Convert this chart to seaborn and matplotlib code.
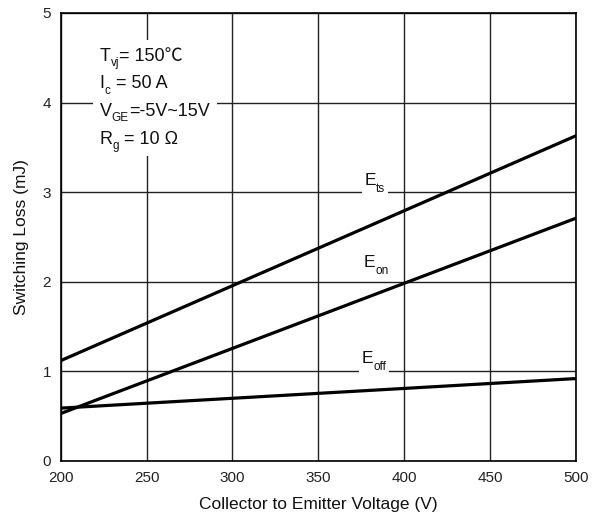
import matplotlib
matplotlib.use("Agg")
import matplotlib.pyplot as plt
import seaborn as sns
import pandas as pd
from matplotlib.patches import Rectangle
from matplotlib.transforms import Bbox

# Switching energy vs collector-emitter voltage (endpoints of each linear curve)
vce = [200, 500]
e_ts = [1.12, 3.63]
e_on = [0.53, 2.71]
e_off = [0.59, 0.92]

series_names = ["Ets", "Eon", "Eoff"]
series_subs = ["ts", "on", "off"]
label_pos = [(377.0, 3.08), (376.5, 2.165), (375.2, 1.094)]

x_ticks = [200, 250, 300, 350, 400, 450, 500]
y_ticks = [0, 1, 2, 3, 4, 5]

# test conditions: (symbol, subscript, remainder)
cond_lines = [
    ("T", "vj", "= 150℃"),
    ("I", "c", " = 50 A"),
    ("V", "GE", "=-5V~15V"),
    ("R", "g", " = 10 Ω"),
]

FAMILY = ["Liberation Sans", "Noto Sans CJK SC", "DejaVu Sans"]

df = pd.DataFrame({
    "Vce": vce * 3,
    "E": e_ts + e_on + e_off,
    "curve": [n for n in series_names for _ in vce],
})

sns.set_theme(style="white")
plt.rcParams["font.family"] = FAMILY

fig = plt.figure(figsize=(5.95, 5.18), dpi=100)
ax = fig.add_axes([60.7 / 595, 1 - 461 / 518, (576 - 60.7) / 595, (461 - 13) / 518])

sns.lineplot(data=df, x="Vce", y="E", hue="curve", palette=["black"] * 3,
             linewidth=2.3, legend=False, ax=ax, zorder=4)

ax.set_xlim(200, 500)
ax.set_ylim(0, 5)
ax.set_xticks(x_ticks)
ax.set_yticks(y_ticks)
ax.grid(True, color="#222222", linewidth=1.0, zorder=1)
ax.set_axisbelow(True)
for s in ax.spines.values():
    s.set_color("black")
    s.set_linewidth(1.2)
ax.tick_params(axis="both", length=0, labelsize=11, colors="#222222")
ax.tick_params(axis="x", pad=7)
ax.tick_params(axis="y", pad=7)
ax.set_xlabel("Collector to Emitter Voltage (V)", fontsize=12.5, labelpad=9, color="#111111")
ax.set_ylabel("Switching Loss (mJ)", fontsize=12.5, labelpad=10, color="#111111")

renderer = fig.canvas.get_renderer()


def draw_rich(x, y, pieces, coords, size, sub_size, sub_drop, zorder=5):
    """Lay out (text, is_subscript) pieces left to right on one baseline."""
    dx = 0.0
    extents = []
    for s, is_sub in pieces:
        t = ax.annotate(s, xy=(x, y), xycoords=coords,
                        xytext=(dx, -sub_drop if is_sub else 0), textcoords="offset pixels",
                        fontsize=sub_size if is_sub else size, ha="left", va="baseline",
                        family=FAMILY, color="#111111", zorder=zorder, annotation_clip=False)
        bb = t.get_window_extent(renderer)
        dx += bb.width
        extents.append(bb)
    return Bbox.union(extents)


# curve labels sitting on the grid with a white backing
for sub, (lx, ly) in zip(series_subs, label_pos):
    bb = draw_rich(lx, ly, [("E", False), (sub, True)], "data", 12.5, 8.5, 7)
    bb = bb.padded(3)
    bb_ax = bb.transformed(ax.transAxes.inverted())
    ax.add_patch(Rectangle((bb_ax.x0, bb_ax.y0), bb_ax.width, bb_ax.height,
                           transform=ax.transAxes, facecolor="white",
                           edgecolor="none", zorder=3))

# test-condition block
ax.add_patch(Rectangle((0.063, 0.681), 0.24, 0.259, transform=ax.transAxes,
                       facecolor="white", edgecolor="none", zorder=3))
for i, (sym, sub, rest) in enumerate(cond_lines):
    draw_rich(0.076, (461 - 60.7 - i * 27.8) / 448,
              [(sym, False), (sub, True), (rest, False)], "axes fraction", 13, 8.5, 5)

fig.savefig("out.png", dpi=100)
